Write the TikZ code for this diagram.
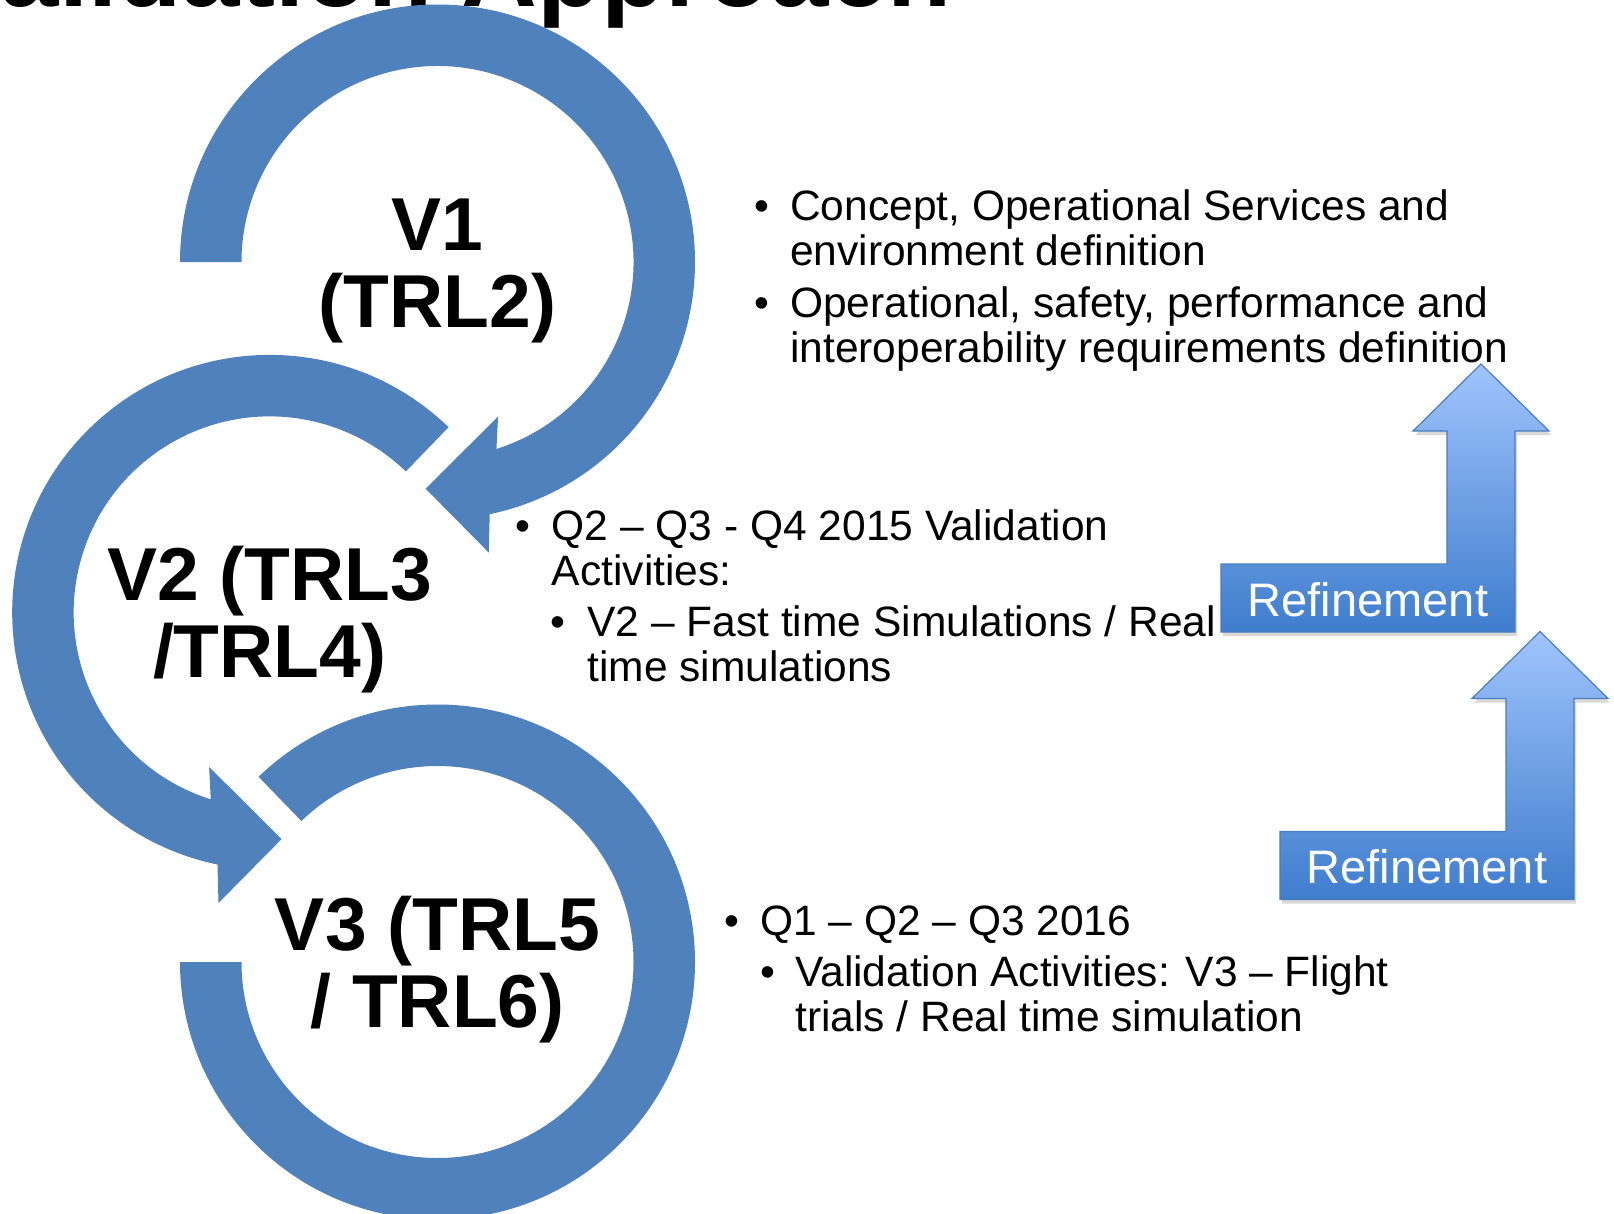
\documentclass[tikz,border=0pt]{standalone}
\usepackage{fontspec}
\setmainfont{Liberation Sans}
\usetikzlibrary{calc,shadows}
\definecolor{RingBlue}{HTML}{4F81BD}
\definecolor{ArrowEdge}{HTML}{4A7EBB}
\definecolor{ArrowTop}{HTML}{A0C4FD}
\definecolor{ArrowBottom}{HTML}{3F7DCD}

\tikzset{
  ringshape/.style={fill=RingBlue},
  ringlabel/.style={font=\fontsize{75}{77}\selectfont\bfseries, align=center, anchor=base, inner sep=0pt},
  bodytext/.style={font=\fontsize{42.5}{45}\selectfont, align=left, anchor=base west, inner sep=0pt},
  bulletmark/.style={font=\fontsize{42.5}{45}\selectfont, anchor=base, inner sep=0pt},
  refarrow/.style={draw=ArrowEdge, line width=1.2pt, top color=ArrowTop, bottom color=ArrowBottom,
    drop shadow={shadow xshift=2pt, shadow yshift=-4pt, opacity=0.3}},
  reftext/.style={font=\fontsize{47}{47}\selectfont, text=white, anchor=base, inner sep=0pt}
}

\begin{document}
\begin{tikzpicture}[x=1pt,y=1pt]
  \useasboundingbox (0,0) rectangle (1614,-1213);
  \clip (0,0) rectangle (1614,-1213);
  \fill[white] (0,0) rectangle (1614,-1213);

  % title, cut by the top edge
  \node[anchor=base east, inner sep=0pt, font=\fontsize{105}{105}\selectfont\bfseries] (title) at (952,-6.5) {Validation Approach};

  % V1 ring
  \begin{scope}[shift={(437.5,-262)}]
    \fill[ringshape] (180:257.5) arc[start angle=180, end angle=-78.3, radius=257.5]
      -- (-80:295) -- (-93:227) -- (-68.6:166) -- (-72.5:196)
      arc[start angle=-72.5, end angle=180, radius=196] -- cycle;
  \end{scope}
  % V2 ring
  \begin{scope}[shift={(269.7,-612.4)}]
    \fill[ringshape] (46:257.5) arc[start angle=46, end angle=258.3, radius=257.5]
      -- (260:295) -- (273:227) -- (248.6:166) -- (252.5:196)
      arc[start angle=252.5, end angle=46, radius=196] -- cycle;
  \end{scope}
  % V3 ring
  \begin{scope}[shift={(437.5,-962)}]
    \fill[ringshape] (134:257.5) arc[start angle=134, end angle=-180, radius=257.5]
      -- (180:196) arc[start angle=-180, end angle=134, radius=196] -- cycle;
  \end{scope}

  % labels sit on the baseline of their last line
  \node[ringlabel] (v1) at (437.5,-327) {V1\\(TRL2)};
  \node[ringlabel] (v2) at (269.7,-677.4) {V2 (TRL3\\/TRL4)};
  \node[ringlabel] (v3) at (437.5,-1027) {V3 (TRL5\\/ TRL6)};

  % bullet texts
  \node[bulletmark] (b1a) at (761.7,-220) {•};
  \node[bodytext] (t1a) at (790,-265) {Concept, Operational Services and\\environment definition};
  \node[bulletmark] (b1b) at (761.7,-317) {•};
  \node[bodytext] (t1b) at (790,-362) {Operational, safety, performance and\\interoperability requirements definition};

  \node[bulletmark] (b2a) at (522.7,-540) {•};
  \node[bodytext] (t2a) at (551.7,-585) {Q2 – Q3 - Q4 2015 Validation\\Activities:};
  \node[bulletmark] (b2b) at (558.3,-636.7) {•};
  \node[bodytext] (t2b) at (587.3,-681.7) {V2 – Fast time Simulations / Real\\time simulations};

  \node[bulletmark] (b3a) at (731.7,-935) {•};
  \node[bodytext] (t3a) at (760,-935) {Q1 – Q2 – Q3 2016};
  \node[bulletmark] (b3b) at (768.3,-986) {•};
  \node[bodytext] (t3b) at (795,-1031) {Validation Activities: V3 – Flight\\trials / Real time simulation};

  % refinement arrows
  \draw[refarrow] (1221,-632) -- (1515,-632) -- (1515,-431) -- (1549,-431) -- (1481,-364)
    -- (1413,-431) -- (1447,-431) -- (1447,-564) -- (1221,-564) -- cycle;
  \node[reftext] (ref1) at (1368,-616) {Refinement};
  \begin{scope}[shift={(59,-267.5)}]
    \draw[refarrow] (1221,-632) -- (1515,-632) -- (1515,-431) -- (1549,-431) -- (1481,-364)
      -- (1413,-431) -- (1447,-431) -- (1447,-564) -- (1221,-564) -- cycle;
    \node[reftext] (ref2) at (1368,-616) {Refinement};
  \end{scope}
\end{tikzpicture}
\end{document}
